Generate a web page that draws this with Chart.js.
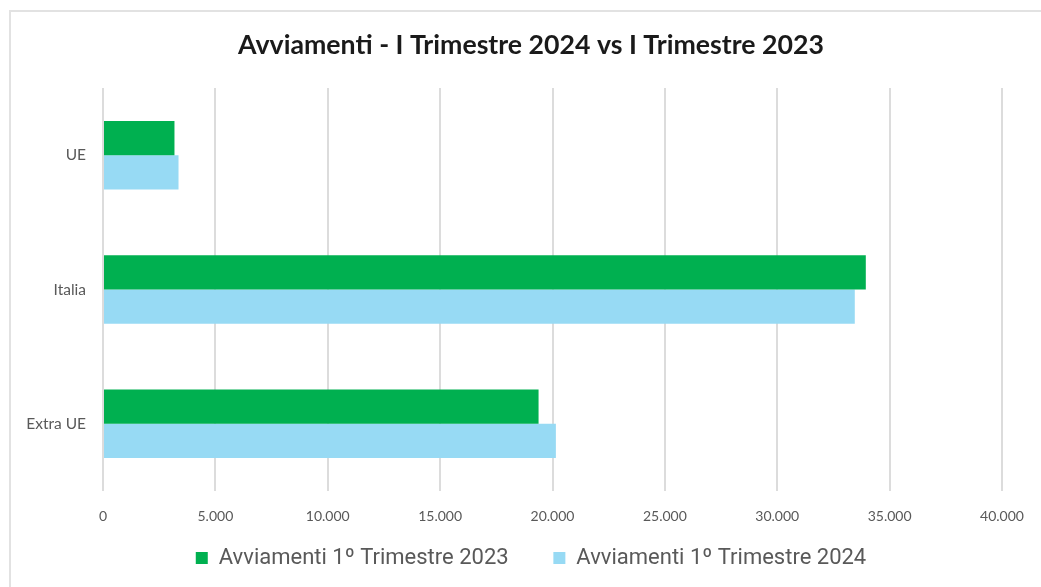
<!DOCTYPE html>
<html>
<head>
<meta charset="utf-8">
<script src="https://cdn.jsdelivr.net/npm/chart.js@4"></script>
<style>
    body { margin: 0; background: #ffffff; overflow: hidden; }
    #wrap {
        position: absolute;
        left: 9px;
        top: 10px;
        width: 1040px;
        height: 580px;
        border: 2px solid #e2e2e2;
        background: #ffffff;
    }
    canvas { display: block; }
</style>
</head>
<body>
<div id="wrap">
    <canvas id="avviamentiChart" width="1040" height="575"></canvas>
</div>
<script>
// Data
const categories = ['UE', 'Italia', 'Extra UE'];
const avviamenti2023 = [3180, 33940, 19380];
const avviamenti2024 = [3360, 33450, 20150];
const seriesLabels = ['Avviamenti 1º Trimestre 2023', 'Avviamenti 1º Trimestre 2024'];
const xMin = 0;
const xMax = 40000;
const xStep = 5000;

// thousands separator with a dot, as in the original (5.000, 10.000 ...)
function formatNumber(value) {
    return String(value).replace(/\B(?=(\d{3})+(?!\d))/g, '.');
}

const ctx = document.getElementById('avviamentiChart').getContext('2d');
new Chart(ctx, {
    type: 'bar',
    data: {
        labels: categories,
        datasets: [
            {
                label: seriesLabels[0],
                data: avviamenti2023,
                backgroundColor: '#00b050',
                categoryPercentage: 0.51,
                barPercentage: 1.0
            },
            {
                label: seriesLabels[1],
                data: avviamenti2024,
                backgroundColor: '#97daf4',
                categoryPercentage: 0.51,
                barPercentage: 1.0
            }
        ]
    },
    options: {
        indexAxis: 'y',
        responsive: false,
        animation: false,
        devicePixelRatio: 1,
        layout: {
            padding: { left: 0, right: 0, top: 0, bottom: 8 }
        },
        scales: {
            x: {
                min: xMin,
                max: xMax,
                border: { display: false },
                grid: {
                    color: '#dcdcdc',
                    lineWidth: 2,
                    drawTicks: false
                },
                ticks: {
                    stepSize: xStep,
                    padding: 17,
                    color: '#595959',
                    font: { family: 'Lato', size: 14 },
                    callback: function(value) {
                        return formatNumber(value);
                    }
                },
                afterFit: function(scale) {
                    scale.height = 44;
                }
            },
            y: {
                border: { display: false },
                grid: { display: false },
                ticks: {
                    padding: 9,
                    color: '#595959',
                    font: { family: 'Lato', size: 15.5 }
                },
                afterFit: function(scale) {
                    scale.width = 92;
                }
            },
            // empty right margin so the title stays centred on the whole chart
            yRight: {
                type: 'category',
                position: 'right',
                border: { display: false },
                grid: { display: false },
                ticks: { display: false },
                afterFit: function(scale) {
                    scale.width = 49;
                }
            }
        },
        plugins: {
            title: {
                display: true,
                text: 'Avviamenti - I Trimestre 2024 vs I Trimestre 2023',
                color: '#1a1a1a',
                font: { family: 'Lato', size: 26.7, weight: 'bold' },
                padding: { top: 17, bottom: 27 }
            },
            legend: {
                position: 'bottom',
                labels: {
                    boxWidth: 12,
                    boxHeight: 12,
                    padding: 12,
                    color: '#595959',
                    font: { family: 'Roboto', size: 22 },
                    generateLabels: function(chart) {
                        const items = Chart.defaults.plugins.legend.labels.generateLabels(chart);
                        // widen the gap between the two entries like the original
                        items[0].text = items[0].text + '\u00a0\u00a0\u00a0\u00a0\u00a0\u00a0';
                        items.forEach(item => { item.lineWidth = 0; });
                        return items;
                    }
                }
            },
            tooltip: { enabled: false }
        }
    }
});
</script>
</body>
</html>
